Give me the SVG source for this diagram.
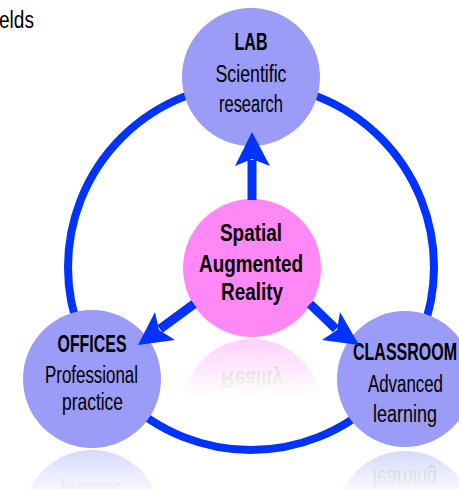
<svg xmlns="http://www.w3.org/2000/svg" width="459" height="489" viewBox="0 0 459 489">
<style>
.t{font-family:"Liberation Sans Narrow","Liberation Sans",Arial,sans-serif;font-size:23.5px;fill:#000;text-anchor:middle}
.b{font-weight:bold}
.node{fill:#9a9cf7}
.core{fill:#ff88f6}
.rt{font-family:"Liberation Sans Narrow","Liberation Sans",Arial,sans-serif;font-size:23.5px;fill:#555;text-anchor:middle}
</style>
<defs>
<linearGradient id="fade" x1="0" y1="0" x2="0" y2="1">
<stop offset="0" stop-color="#fff" stop-opacity="0.4"/>
<stop offset="1" stop-color="#fff" stop-opacity="0"/>
</linearGradient>
<mask id="mP" maskUnits="userSpaceOnUse" x="0" y="0" width="459" height="489"><rect x="170" y="338" width="170" height="58" fill="url(#fade)"/></mask>
<mask id="mO" maskUnits="userSpaceOnUse" x="0" y="0" width="459" height="489"><rect x="15" y="449" width="160" height="50" fill="url(#fade)"/></mask>
<mask id="mC" maskUnits="userSpaceOnUse" x="0" y="0" width="459" height="489"><rect x="330" y="449" width="140" height="50" fill="url(#fade)"/></mask>
</defs>
<rect width="459" height="489" fill="#fff"/>
<text class="t" x="-1" y="28" style="text-anchor:start" textLength="35" lengthAdjust="spacingAndGlyphs">elds</text>

<g id="reflections">
<g mask="url(#mP)"><g transform="translate(0,676) scale(1,-1)"><circle class="core" cx="252" cy="268" r="69"/><text class="rt b" x="252" y="305" textLength="62" lengthAdjust="spacingAndGlyphs">Reality</text></g></g>
<g mask="url(#mO)"><g transform="translate(0,898) scale(1,-1)"><circle class="node" cx="92" cy="379" r="69"/><text class="rt" x="92" y="415" textLength="61" lengthAdjust="spacingAndGlyphs">practice</text></g></g>
<g mask="url(#mC)"><g transform="translate(0,898) scale(1,-1)"><circle class="node" cx="405" cy="379" r="68"/><text class="rt" x="405" y="428" textLength="64" lengthAdjust="spacingAndGlyphs">learning</text></g></g>
</g>

<g id="ring"><circle cx="251" cy="267" r="183" fill="none" stroke="#0033ff" stroke-width="8"/></g>

<g id="lab"><circle class="node" cx="251" cy="77" r="69"/>
<text class="t b" x="251" y="50" textLength="33" lengthAdjust="spacingAndGlyphs">LAB</text>
<text class="t" x="251" y="82" textLength="71" lengthAdjust="spacingAndGlyphs">Scientific</text>
<text class="t" x="251" y="112" textLength="64" lengthAdjust="spacingAndGlyphs">research</text></g>

<g id="offices"><circle class="node" cx="92" cy="379" r="69"/>
<text class="t b" x="92" y="352" textLength="69" lengthAdjust="spacingAndGlyphs">OFFICES</text>
<text class="t" x="91.5" y="383" textLength="93" lengthAdjust="spacingAndGlyphs">Professional</text>
<text class="t" x="92.5" y="410" textLength="61" lengthAdjust="spacingAndGlyphs">practice</text></g>

<g id="classroom"><circle class="node" cx="405" cy="379" r="68"/>
<text class="t b" x="405" y="360" textLength="104" lengthAdjust="spacingAndGlyphs">CLASSROOM</text>
<text class="t" x="405.5" y="392" textLength="75" lengthAdjust="spacingAndGlyphs">Advanced</text>
<text class="t" x="405" y="422" textLength="64" lengthAdjust="spacingAndGlyphs">learning</text></g>

<g id="sar"><circle class="core" cx="252" cy="268" r="69"/>
<text class="t b" x="251" y="241" textLength="62" lengthAdjust="spacingAndGlyphs">Spatial</text>
<text class="t b" x="251" y="272" textLength="104" lengthAdjust="spacingAndGlyphs">Augmented</text>
<text class="t b" x="252" y="300" textLength="62" lengthAdjust="spacingAndGlyphs">Reality</text></g>

<g id="connectors" fill="#0033ff" stroke="#0033ff">
<line x1="252" y1="200" x2="252" y2="160" stroke-width="9"/>
<polygon points="252,132 270,166 252,159 235,166" stroke="none"/>
<line x1="194" y1="304" x2="160" y2="329" stroke-width="9"/>
<polygon points="138,345 155,312 159,330 175,340" stroke="none"/>
<line x1="310" y1="304" x2="336" y2="329" stroke-width="9"/>
<polygon points="359,345 340,312 337,330 322,340" stroke="none"/>
</g>
</svg>
